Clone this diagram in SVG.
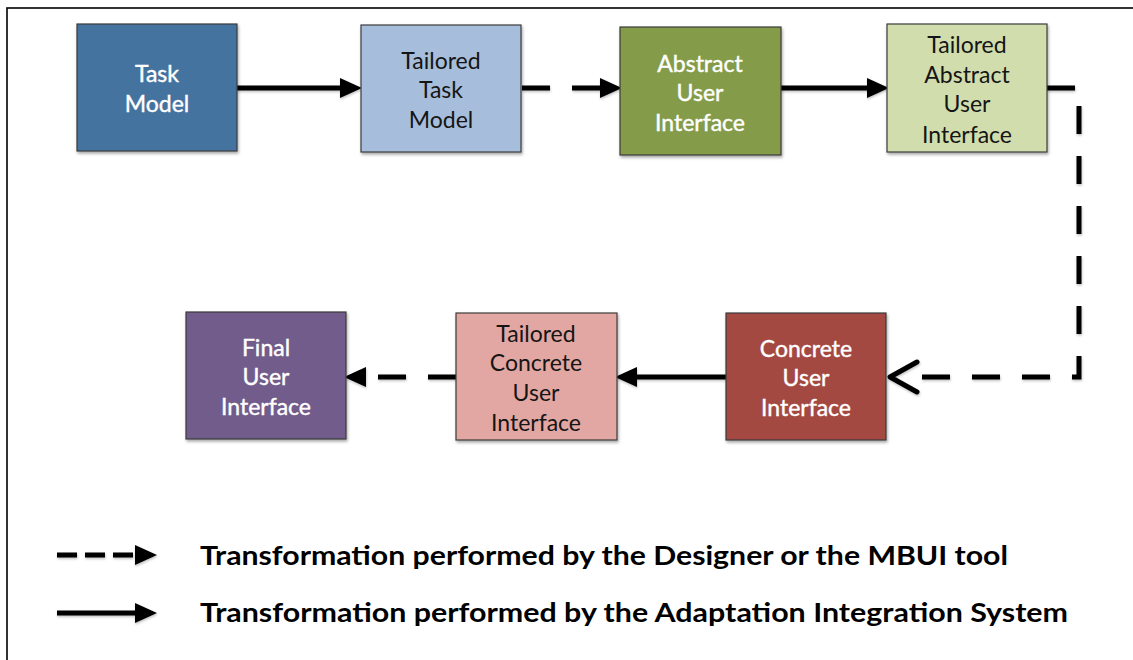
<svg xmlns="http://www.w3.org/2000/svg" width="1133" height="660" viewBox="0 0 1133 660">
  <style>
    .box { stroke: #3b3b3b; stroke-width: 1.2; filter: url(#shadow); }
    .lbl { font-family: Lato, "Liberation Sans", sans-serif; font-size: 23px; text-anchor: middle; }
    .light { fill: #ffffff; stroke: #ffffff; stroke-width: 0.4; }
    .dark { fill: #151515; }
    .wire { fill: none; stroke: #000; stroke-width: 5; }
    .dash { stroke-dasharray: 28 22; }
    .legend { font-family: Lato, "Liberation Sans", sans-serif; font-size: 26px; font-weight: bold; fill: #000; }
  </style>
  <defs>
    <filter id="shadow" x="-10%" y="-10%" width="125%" height="130%">
      <feDropShadow dx="1" dy="2" stdDeviation="1.6" flood-color="#000" flood-opacity="0.35"/>
    </filter>
    <!-- user-space region so zero-height horizontal lines still render -->
    <filter id="soft" filterUnits="userSpaceOnUse" x="0" y="0" width="1133" height="660">
      <feDropShadow dx="0.5" dy="1.5" stdDeviation="1.2" flood-color="#000" flood-opacity="0.25"/>
    </filter>
    <marker id="head" markerUnits="userSpaceOnUse" markerWidth="22" markerHeight="20" refX="10" refY="10" orient="auto">
      <path d="M0,0 L22,10 L0,20 Z" fill="#000"/>
    </marker>
  </defs>

  <rect width="1133" height="660" fill="#ffffff"/>
  <!-- outer frame, runs off the right and bottom edges -->
  <rect x="7" y="8" width="1140" height="670" fill="none" stroke="#000" stroke-width="1.6"/>

  <g id="connectors" filter="url(#soft)">
    <path class="wire" d="M237,88 H350" marker-end="url(#head)"/>
    <path class="wire dash" d="M522,88 H610" marker-end="url(#head)"/>
    <path class="wire" d="M781,88 H877" marker-end="url(#head)"/>
    <path class="wire dash" d="M1047,88 H1079 V377 H900" stroke-linejoin="miter"/>
    <path class="wire" d="M917,362 L890,377 L917,392" stroke-linecap="round" stroke-linejoin="round"/>
    <path class="wire" d="M726,377 H627" marker-end="url(#head)"/>
    <path class="wire dash" d="M456,377 H356" marker-end="url(#head)"/>
  </g>

  <g id="task-model">
    <rect class="box" x="77" y="24" width="160" height="127" fill="#4573a0"/>
    <text class="lbl light" x="157" y="82">Task</text>
    <text class="lbl light" x="157" y="112">Model</text>
  </g>

  <g id="tailored-task-model">
    <rect class="box" x="361" y="25" width="160" height="127" fill="#a6bedb"/>
    <text class="lbl dark" x="441" y="69">Tailored</text>
    <text class="lbl dark" x="441" y="98">Task</text>
    <text class="lbl dark" x="441" y="128">Model</text>
  </g>

  <g id="abstract-ui">
    <rect class="box" x="620" y="27" width="161" height="128" fill="#849c48"/>
    <text class="lbl light" x="700" y="72">Abstract</text>
    <text class="lbl light" x="700" y="101">User</text>
    <text class="lbl light" x="700" y="131">Interface</text>
  </g>

  <g id="tailored-abstract-ui">
    <rect class="box" x="887" y="24" width="160" height="128" fill="#d1ddac"/>
    <text class="lbl dark" x="967" y="53">Tailored</text>
    <text class="lbl dark" x="967" y="83">Abstract</text>
    <text class="lbl dark" x="967" y="112">User</text>
    <text class="lbl dark" x="967" y="143">Interface</text>
  </g>

  <g id="concrete-ui">
    <rect class="box" x="726" y="313" width="160" height="127" fill="#a44843"/>
    <text class="lbl light" x="806" y="357">Concrete</text>
    <text class="lbl light" x="806" y="386">User</text>
    <text class="lbl light" x="806" y="416">Interface</text>
  </g>

  <g id="tailored-concrete-ui">
    <rect class="box" x="456" y="313" width="161" height="127" fill="#e3a7a3"/>
    <text class="lbl dark" x="536" y="342">Tailored</text>
    <text class="lbl dark" x="536" y="371">Concrete</text>
    <text class="lbl dark" x="536" y="401">User</text>
    <text class="lbl dark" x="536" y="431">Interface</text>
  </g>

  <g id="final-ui">
    <rect class="box" x="186" y="312" width="160" height="127" fill="#715b8b"/>
    <text class="lbl light" x="266" y="356">Final</text>
    <text class="lbl light" x="266" y="385">User</text>
    <text class="lbl light" x="266" y="415">Interface</text>
  </g>

  <g id="legend">
    <g filter="url(#soft)">
      <path class="wire" d="M57,555 H145" stroke-dasharray="20 8" marker-end="url(#head)"/>
      <path class="wire" d="M57,613 H145" marker-end="url(#head)"/>
    </g>
    <text class="legend" x="200" y="565" textLength="808" lengthAdjust="spacingAndGlyphs">Transformation performed by the Designer or the MBUI tool</text>
    <text class="legend" x="200" y="622" textLength="868" lengthAdjust="spacingAndGlyphs">Transformation performed by the Adaptation Integration System</text>
  </g>
</svg>
